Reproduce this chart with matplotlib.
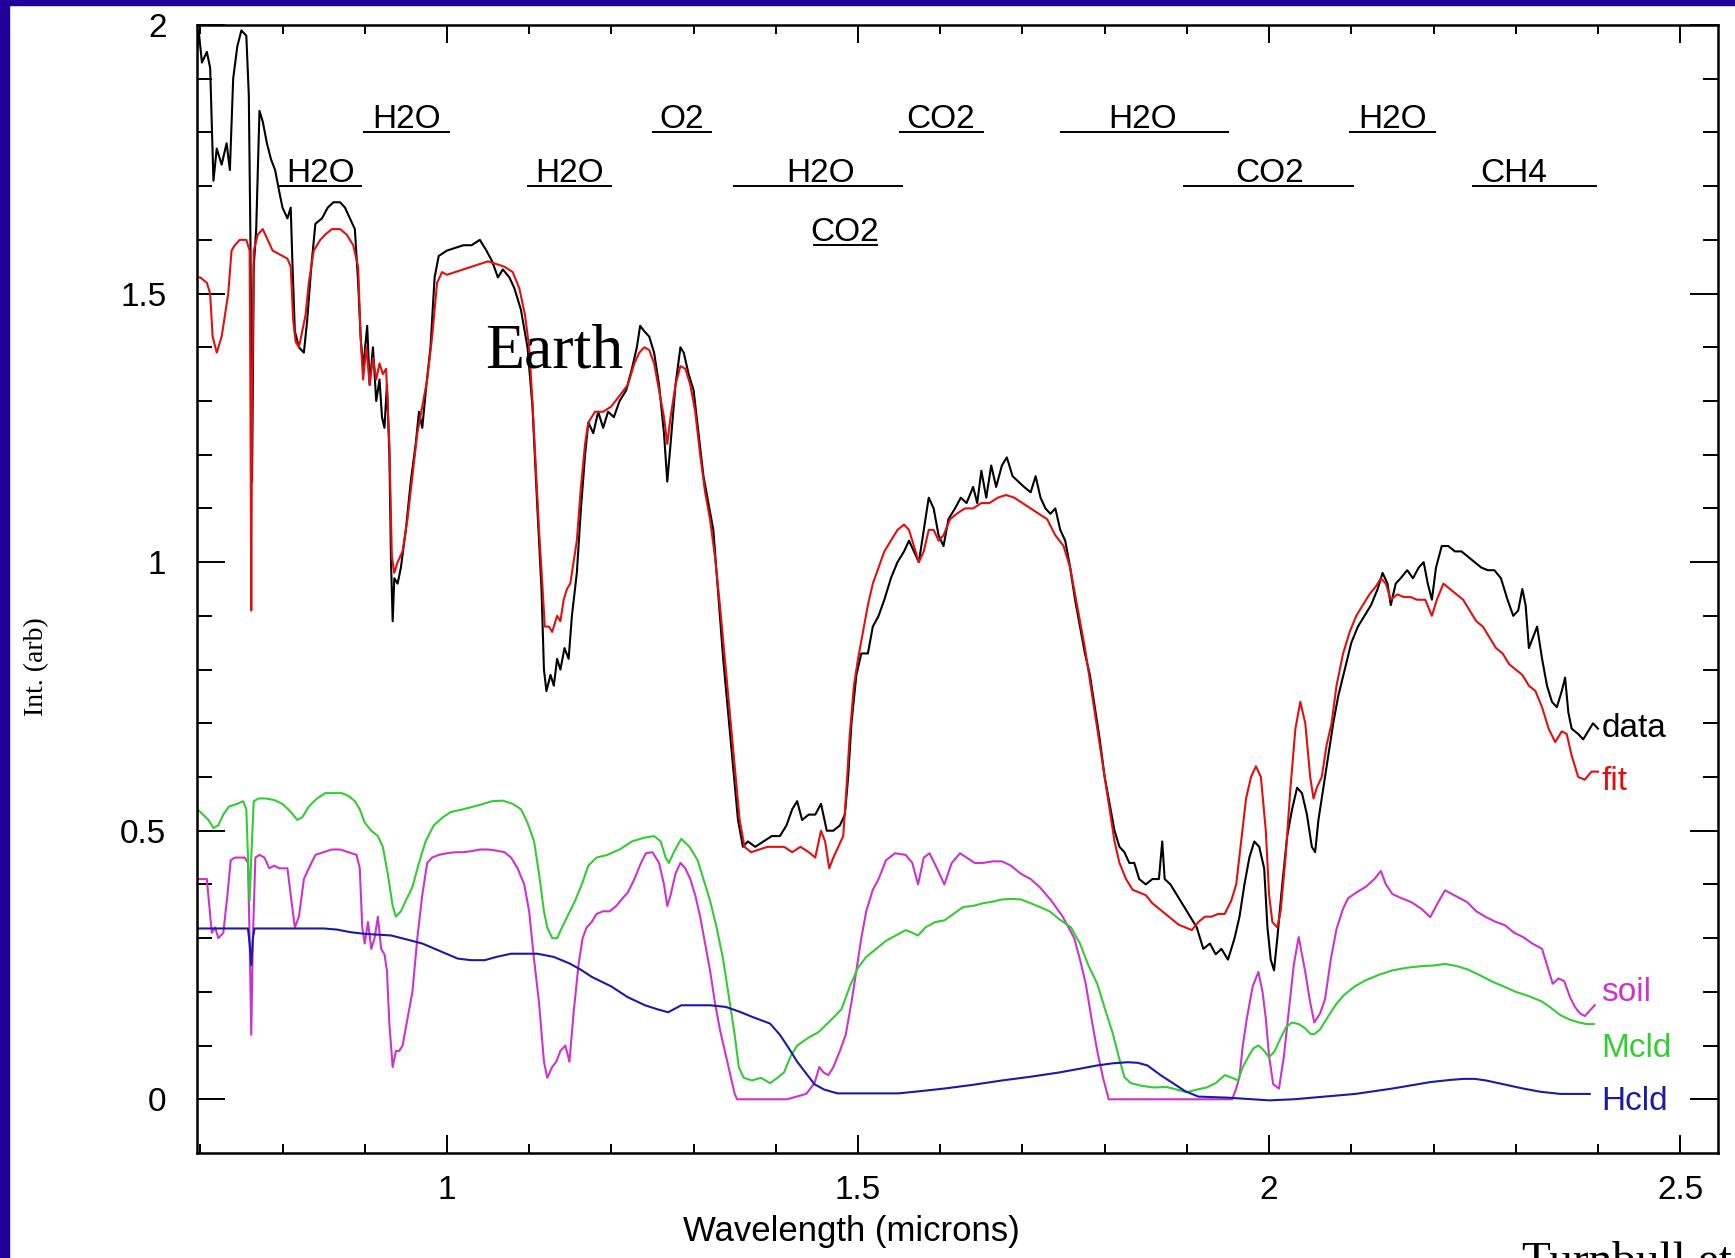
import numpy as np
import matplotlib
matplotlib.use("Agg")
import matplotlib.pyplot as plt
from matplotlib.patches import Rectangle

# data (black)
data_x = [0.692, 0.695, 0.698, 0.702, 0.708, 0.712, 0.716, 0.720, 0.726, 0.732, 0.736, 0.740, 0.745, 0.750, 0.756,
          0.759, 0.761, 0.763, 0.765, 0.768, 0.772, 0.776, 0.781, 0.786, 0.791, 0.796, 0.800, 0.806, 0.810, 0.812,
          0.815, 0.820, 0.826, 0.830, 0.835, 0.840, 0.848, 0.855, 0.862, 0.870, 0.876, 0.882, 0.888, 0.892, 0.895,
          0.898, 0.903, 0.906, 0.910, 0.914, 0.918, 0.921, 0.924, 0.927, 0.930, 0.932, 0.934, 0.936, 0.940, 0.944,
          0.950, 0.956, 0.962, 0.966, 0.970, 0.975, 0.980, 0.985, 0.990, 1.000, 1.010, 1.020, 1.030, 1.040, 1.048,
          1.055, 1.062, 1.068, 1.076, 1.082, 1.090, 1.098, 1.104, 1.110, 1.115, 1.118, 1.121, 1.126, 1.130, 1.134,
          1.138, 1.143, 1.148, 1.152, 1.158, 1.163, 1.168, 1.172, 1.178, 1.184, 1.190, 1.196, 1.203, 1.210, 1.218,
          1.225, 1.231, 1.235, 1.240, 1.246, 1.252, 1.258, 1.264, 1.268, 1.272, 1.278, 1.284, 1.288, 1.294, 1.300,
          1.306, 1.312, 1.318, 1.324, 1.330, 1.336, 1.342, 1.348, 1.354, 1.360, 1.366, 1.375, 1.385, 1.395, 1.405,
          1.413, 1.420, 1.426, 1.432, 1.440, 1.448, 1.455, 1.462, 1.470, 1.478, 1.484, 1.488, 1.492, 1.498, 1.504,
          1.512, 1.518, 1.525, 1.532, 1.540, 1.548, 1.556, 1.562, 1.568, 1.574, 1.580, 1.586, 1.592, 1.598, 1.604,
          1.610, 1.618, 1.625, 1.632, 1.640, 1.645, 1.650, 1.656, 1.662, 1.668, 1.675, 1.681, 1.688, 1.695, 1.702,
          1.710, 1.716, 1.722, 1.728, 1.734, 1.740, 1.746, 1.752, 1.758, 1.764, 1.770, 1.776, 1.782, 1.788, 1.794,
          1.800, 1.806, 1.812, 1.818, 1.824, 1.830, 1.836, 1.842, 1.850, 1.858, 1.866, 1.870, 1.873, 1.880, 1.888,
          1.896, 1.904, 1.912, 1.920, 1.928, 1.935, 1.942, 1.950, 1.958, 1.964, 1.970, 1.976, 1.982, 1.988, 1.994,
          1.998, 2.002, 2.006, 2.010, 2.016, 2.022, 2.028, 2.034, 2.040, 2.046, 2.052, 2.056, 2.060, 2.066, 2.072,
          2.078, 2.084, 2.092, 2.100, 2.108, 2.116, 2.124, 2.132, 2.138, 2.144, 2.148, 2.154, 2.160, 2.168, 2.175,
          2.182, 2.188, 2.193, 2.198, 2.203, 2.210, 2.218, 2.226, 2.234, 2.242, 2.250, 2.258, 2.266, 2.274, 2.282,
          2.290, 2.297, 2.303, 2.308, 2.312, 2.316, 2.321, 2.326, 2.332, 2.338, 2.344, 2.350, 2.356, 2.360, 2.364,
          2.368, 2.376, 2.382, 2.388, 2.394, 2.400]
data_y = [1.97, 1.93, 1.99, 1.93, 1.95, 1.92, 1.71, 1.77, 1.74, 1.78, 1.73, 1.90, 1.96, 1.99, 1.98,
          1.87, 1.60, 1.15, 1.55, 1.62, 1.84, 1.82, 1.78, 1.75, 1.73, 1.69, 1.66, 1.64, 1.66, 1.56,
          1.43, 1.40, 1.39, 1.45, 1.55, 1.63, 1.64, 1.66, 1.67, 1.67, 1.66, 1.64, 1.62, 1.52, 1.42,
          1.36, 1.44, 1.33, 1.40, 1.30, 1.34, 1.27, 1.25, 1.33, 1.20, 1.00, 0.89, 0.97, 0.96, 0.99,
          1.06, 1.15, 1.22, 1.28, 1.25, 1.33, 1.40, 1.53, 1.57, 1.58, 1.585, 1.59, 1.59, 1.60, 1.58,
          1.56, 1.53, 1.545, 1.53, 1.51, 1.47, 1.40, 1.29, 1.10, 0.95, 0.80, 0.76, 0.79, 0.77, 0.82,
          0.80, 0.84, 0.82, 0.90, 0.98, 1.10, 1.20, 1.26, 1.24, 1.28, 1.25, 1.28, 1.27, 1.30, 1.32,
          1.36, 1.40, 1.44, 1.43, 1.42, 1.39, 1.33, 1.24, 1.15, 1.22, 1.33, 1.40, 1.39, 1.35, 1.32,
          1.24, 1.16, 1.11, 1.06, 0.94, 0.82, 0.72, 0.62, 0.52, 0.47, 0.48, 0.47, 0.48, 0.49, 0.49,
          0.51, 0.54, 0.555, 0.52, 0.53, 0.53, 0.55, 0.50, 0.50, 0.51, 0.53, 0.60, 0.70, 0.79, 0.83,
          0.83, 0.88, 0.90, 0.93, 0.97, 1.00, 1.02, 1.04, 1.02, 1.00, 1.06, 1.12, 1.10, 1.05, 1.03,
          1.08, 1.10, 1.12, 1.11, 1.14, 1.11, 1.17, 1.12, 1.18, 1.14, 1.18, 1.195, 1.16, 1.15, 1.14,
          1.13, 1.16, 1.12, 1.10, 1.09, 1.10, 1.06, 1.04, 0.99, 0.93, 0.88, 0.83, 0.79, 0.73, 0.67,
          0.60, 0.55, 0.50, 0.47, 0.46, 0.44, 0.44, 0.41, 0.40, 0.41, 0.41, 0.48, 0.41, 0.40, 0.38,
          0.36, 0.34, 0.32, 0.28, 0.29, 0.27, 0.28, 0.26, 0.30, 0.34, 0.40, 0.45, 0.48, 0.47, 0.43,
          0.32, 0.26, 0.24, 0.30, 0.40, 0.49, 0.54, 0.58, 0.57, 0.53, 0.47, 0.46, 0.52, 0.58, 0.64,
          0.70, 0.75, 0.80, 0.85, 0.88, 0.90, 0.92, 0.95, 0.98, 0.96, 0.92, 0.96, 0.97, 0.985, 0.97,
          0.99, 1.00, 0.96, 0.93, 0.99, 1.03, 1.03, 1.02, 1.02, 1.01, 1.00, 0.99, 0.985, 0.985, 0.97,
          0.93, 0.90, 0.91, 0.95, 0.92, 0.84, 0.86, 0.88, 0.82, 0.77, 0.74, 0.73, 0.76, 0.785, 0.72,
          0.69, 0.68, 0.67, 0.685, 0.70, 0.69]

# fit (red)
fit_x = [0.692, 0.700, 0.708, 0.712, 0.715, 0.720, 0.726, 0.730, 0.734, 0.738, 0.742, 0.748, 0.756, 0.760, 0.761,
         0.762, 0.763, 0.765, 0.770, 0.776, 0.782, 0.788, 0.794, 0.800, 0.806, 0.810, 0.813, 0.816, 0.820, 0.824,
         0.828, 0.832, 0.838, 0.846, 0.852, 0.860, 0.870, 0.878, 0.886, 0.892, 0.895, 0.898, 0.902, 0.906, 0.910,
         0.914, 0.918, 0.922, 0.926, 0.930, 0.933, 0.936, 0.940, 0.946, 0.952, 0.958, 0.964, 0.970, 0.976, 0.982,
         0.988, 0.994, 1.000, 1.010, 1.020, 1.030, 1.040, 1.050, 1.060, 1.070, 1.080, 1.088, 1.095, 1.100, 1.104,
         1.108, 1.112, 1.116, 1.119, 1.124, 1.128, 1.134, 1.138, 1.142, 1.146, 1.150, 1.154, 1.158, 1.163, 1.168,
         1.172, 1.180, 1.190, 1.200, 1.210, 1.220, 1.228, 1.234, 1.240, 1.246, 1.252, 1.258, 1.264, 1.268, 1.272,
         1.278, 1.284, 1.290, 1.296, 1.302, 1.308, 1.314, 1.320, 1.326, 1.332, 1.338, 1.344, 1.350, 1.356, 1.362,
         1.370, 1.380, 1.390, 1.400, 1.410, 1.420, 1.430, 1.440, 1.448, 1.455, 1.460, 1.465, 1.470, 1.476, 1.482,
         1.486, 1.490, 1.495, 1.500, 1.506, 1.512, 1.518, 1.525, 1.532, 1.540, 1.548, 1.556, 1.562, 1.568, 1.574,
         1.580, 1.586, 1.592, 1.598, 1.604, 1.612, 1.620, 1.630, 1.640, 1.650, 1.660, 1.670, 1.680, 1.690, 1.700,
         1.710, 1.720, 1.730, 1.740, 1.750, 1.758, 1.764, 1.770, 1.776, 1.782, 1.788, 1.794, 1.800, 1.806, 1.812,
         1.818, 1.826, 1.834, 1.842, 1.850, 1.858, 1.866, 1.874, 1.882, 1.890, 1.898, 1.906, 1.914, 1.922, 1.930,
         1.938, 1.946, 1.954, 1.960, 1.966, 1.972, 1.978, 1.984, 1.990, 1.996, 2.000, 2.004, 2.010, 2.014, 2.020,
         2.026, 2.032, 2.038, 2.044, 2.050, 2.054, 2.058, 2.064, 2.070, 2.076, 2.082, 2.090, 2.098, 2.106, 2.114,
         2.122, 2.130, 2.136, 2.142, 2.148, 2.156, 2.164, 2.172, 2.180, 2.190, 2.198, 2.204, 2.212, 2.220, 2.228,
         2.236, 2.244, 2.252, 2.260, 2.268, 2.276, 2.284, 2.292, 2.300, 2.308, 2.316, 2.324, 2.332, 2.340, 2.348,
         2.356, 2.362, 2.368, 2.376, 2.384, 2.392, 2.400]
fit_y = [1.53, 1.53, 1.52, 1.50, 1.42, 1.39, 1.42, 1.46, 1.50, 1.58, 1.59, 1.60, 1.60, 1.58, 1.30,
         0.91, 1.30, 1.58, 1.61, 1.62, 1.60, 1.58, 1.575, 1.57, 1.565, 1.55, 1.45, 1.41, 1.40, 1.43,
         1.46, 1.52, 1.58, 1.60, 1.61, 1.62, 1.62, 1.61, 1.59, 1.55, 1.42, 1.34, 1.40, 1.33, 1.38,
         1.34, 1.37, 1.35, 1.36, 1.22, 1.01, 0.98, 1.00, 1.02, 1.08, 1.16, 1.24, 1.29, 1.34, 1.42,
         1.52, 1.54, 1.535, 1.54, 1.545, 1.55, 1.555, 1.56, 1.555, 1.55, 1.54, 1.51, 1.46, 1.40, 1.30,
         1.18, 1.06, 0.96, 0.88, 0.88, 0.87, 0.90, 0.89, 0.93, 0.95, 0.96, 1.00, 1.04, 1.14, 1.22,
         1.26, 1.28, 1.28, 1.29, 1.31, 1.33, 1.37, 1.39, 1.40, 1.395, 1.37, 1.32, 1.27, 1.22, 1.27,
         1.33, 1.365, 1.36, 1.33, 1.28, 1.20, 1.13, 1.08, 1.01, 0.92, 0.82, 0.72, 0.62, 0.52, 0.47,
         0.46, 0.465, 0.47, 0.47, 0.47, 0.46, 0.47, 0.46, 0.45, 0.50, 0.48, 0.43, 0.45, 0.47, 0.49,
         0.58, 0.68, 0.77, 0.82, 0.87, 0.92, 0.96, 0.99, 1.02, 1.04, 1.06, 1.07, 1.06, 1.03, 1.00,
         1.02, 1.06, 1.06, 1.04, 1.05, 1.08, 1.09, 1.10, 1.10, 1.11, 1.11, 1.12, 1.125, 1.12, 1.11,
         1.10, 1.09, 1.08, 1.05, 1.03, 0.99, 0.94, 0.89, 0.84, 0.78, 0.72, 0.66, 0.60, 0.54, 0.48,
         0.44, 0.41, 0.39, 0.385, 0.38, 0.365, 0.355, 0.345, 0.335, 0.325, 0.32, 0.315, 0.33, 0.34, 0.34,
         0.345, 0.345, 0.37, 0.40, 0.48, 0.56, 0.60, 0.62, 0.60, 0.50, 0.38, 0.33, 0.32, 0.35, 0.45,
         0.58, 0.69, 0.74, 0.70, 0.60, 0.56, 0.58, 0.60, 0.66, 0.70, 0.77, 0.83, 0.87, 0.90, 0.92,
         0.94, 0.955, 0.97, 0.96, 0.93, 0.94, 0.935, 0.935, 0.93, 0.93, 0.90, 0.93, 0.96, 0.95, 0.94,
         0.93, 0.91, 0.89, 0.88, 0.86, 0.84, 0.83, 0.81, 0.80, 0.79, 0.77, 0.76, 0.73, 0.69, 0.665,
         0.685, 0.68, 0.64, 0.60, 0.595, 0.61, 0.61]

# soil (magenta)
soil_x = [0.692, 0.700, 0.708, 0.711, 0.714, 0.718, 0.722, 0.728, 0.733, 0.737, 0.742, 0.748, 0.754, 0.758, 0.760,
          0.762, 0.764, 0.767, 0.772, 0.778, 0.784, 0.790, 0.796, 0.802, 0.806, 0.810, 0.815, 0.820, 0.826, 0.832,
          0.840, 0.850, 0.860, 0.870, 0.880, 0.890, 0.894, 0.897, 0.900, 0.904, 0.908, 0.912, 0.916, 0.920, 0.924,
          0.927, 0.930, 0.934, 0.938, 0.942, 0.946, 0.952, 0.958, 0.964, 0.970, 0.976, 0.982, 0.990, 1.000, 1.010,
          1.020, 1.030, 1.040, 1.050, 1.060, 1.070, 1.078, 1.086, 1.094, 1.100, 1.106, 1.112, 1.118, 1.122, 1.128,
          1.133, 1.138, 1.144, 1.149, 1.154, 1.160, 1.165, 1.170, 1.176, 1.182, 1.190, 1.198, 1.206, 1.214, 1.220,
          1.228, 1.236, 1.242, 1.250, 1.258, 1.264, 1.268, 1.272, 1.278, 1.284, 1.290, 1.296, 1.302, 1.308, 1.314,
          1.320, 1.326, 1.332, 1.338, 1.344, 1.350, 1.353, 1.380, 1.414, 1.425, 1.437, 1.447, 1.453, 1.458, 1.464,
          1.470, 1.478, 1.485, 1.492, 1.498, 1.504, 1.510, 1.518, 1.525, 1.534, 1.545, 1.558, 1.566, 1.573, 1.580,
          1.587, 1.596, 1.605, 1.614, 1.624, 1.632, 1.642, 1.652, 1.664, 1.675, 1.686, 1.698, 1.710, 1.721, 1.735,
          1.749, 1.756, 1.763, 1.770, 1.777, 1.784, 1.791, 1.798, 1.805, 1.840, 1.900, 1.955, 1.960, 1.964, 1.968,
          1.973, 1.980, 1.987, 1.992, 1.996, 2.000, 2.005, 2.012, 2.018, 2.023, 2.030, 2.036, 2.040, 2.044, 2.050,
          2.055, 2.062, 2.068, 2.075, 2.082, 2.090, 2.096, 2.106, 2.118, 2.128, 2.136, 2.142, 2.150, 2.160, 2.173,
          2.185, 2.196, 2.205, 2.214, 2.225, 2.241, 2.252, 2.264, 2.276, 2.287, 2.298, 2.309, 2.320, 2.332, 2.338,
          2.345, 2.352, 2.359, 2.366, 2.372, 2.378, 2.384, 2.390, 2.396]
soil_y = [0.41, 0.41, 0.41, 0.36, 0.31, 0.32, 0.30, 0.31, 0.38, 0.445, 0.45, 0.45, 0.45, 0.44, 0.30,
          0.12, 0.30, 0.45, 0.455, 0.45, 0.43, 0.435, 0.43, 0.43, 0.43, 0.38, 0.32, 0.34, 0.41, 0.43,
          0.455, 0.46, 0.465, 0.465, 0.46, 0.455, 0.43, 0.32, 0.29, 0.33, 0.28, 0.30, 0.34, 0.28, 0.27,
          0.24, 0.14, 0.06, 0.09, 0.09, 0.10, 0.15, 0.20, 0.30, 0.38, 0.44, 0.45, 0.455, 0.458, 0.46,
          0.46, 0.462, 0.465, 0.465, 0.463, 0.46, 0.45, 0.43, 0.40, 0.35, 0.26, 0.18, 0.07, 0.04, 0.06,
          0.07, 0.09, 0.10, 0.07, 0.16, 0.25, 0.30, 0.32, 0.33, 0.345, 0.35, 0.35, 0.36, 0.375, 0.385,
          0.41, 0.44, 0.458, 0.46, 0.44, 0.40, 0.36, 0.38, 0.42, 0.44, 0.43, 0.41, 0.38, 0.34, 0.29,
          0.24, 0.18, 0.13, 0.09, 0.05, 0.01, 0.0, 0.0, 0.0, 0.005, 0.01, 0.03, 0.06, 0.05, 0.045,
          0.06, 0.09, 0.12, 0.18, 0.24, 0.30, 0.35, 0.39, 0.41, 0.445, 0.458, 0.455, 0.44, 0.40, 0.45,
          0.458, 0.43, 0.40, 0.44, 0.458, 0.45, 0.44, 0.44, 0.443, 0.443, 0.435, 0.42, 0.41, 0.395, 0.37,
          0.34, 0.32, 0.30, 0.26, 0.215, 0.15, 0.09, 0.04, 0.0, 0.0, 0.0, 0.0, 0.02, 0.042, 0.10,
          0.151, 0.21, 0.237, 0.20, 0.151, 0.08, 0.028, 0.02, 0.08, 0.151, 0.25, 0.302, 0.27, 0.237, 0.18,
          0.143, 0.16, 0.186, 0.26, 0.317, 0.355, 0.374, 0.385, 0.396, 0.41, 0.425, 0.40, 0.382, 0.375, 0.367,
          0.355, 0.339, 0.365, 0.389, 0.38, 0.367, 0.35, 0.339, 0.33, 0.324, 0.31, 0.302, 0.29, 0.28, 0.25,
          0.215, 0.225, 0.22, 0.19, 0.172, 0.16, 0.155, 0.165, 0.175]

# Mcld (green)
mcld_x = [0.692, 0.700, 0.710, 0.716, 0.722, 0.728, 0.735, 0.745, 0.752, 0.756, 0.758, 0.760, 0.762, 0.765, 0.771,
          0.780, 0.790, 0.800, 0.810, 0.818, 0.824, 0.832, 0.842, 0.852, 0.862, 0.872, 0.880, 0.888, 0.894, 0.900,
          0.908, 0.916, 0.922, 0.928, 0.934, 0.938, 0.944, 0.950, 0.958, 0.966, 0.974, 0.984, 0.995, 1.005, 1.020,
          1.040, 1.055, 1.068, 1.080, 1.090, 1.098, 1.106, 1.112, 1.118, 1.122, 1.128, 1.134, 1.140, 1.148, 1.156,
          1.164, 1.172, 1.182, 1.195, 1.210, 1.225, 1.240, 1.252, 1.260, 1.266, 1.270, 1.276, 1.285, 1.295, 1.305,
          1.312, 1.320, 1.328, 1.336, 1.343, 1.350, 1.355, 1.361, 1.371, 1.382, 1.393, 1.402, 1.410, 1.418, 1.426,
          1.440, 1.452, 1.462, 1.472, 1.480, 1.490, 1.500, 1.510, 1.522, 1.534, 1.546, 1.558, 1.566, 1.573, 1.582,
          1.594, 1.605, 1.616, 1.628, 1.640, 1.652, 1.664, 1.675, 1.687, 1.698, 1.710, 1.721, 1.733, 1.745, 1.759,
          1.770, 1.780, 1.791, 1.800, 1.810, 1.817, 1.824, 1.832, 1.845, 1.860, 1.875, 1.888, 1.900, 1.912, 1.924,
          1.935, 1.946, 1.955, 1.962, 1.968, 1.975, 1.981, 1.987, 1.993, 2.000, 2.007, 2.014, 2.021, 2.028, 2.036,
          2.044, 2.050, 2.055, 2.062, 2.073, 2.082, 2.091, 2.104, 2.118, 2.134, 2.150, 2.168, 2.186, 2.200, 2.214,
          2.228, 2.241, 2.255, 2.270, 2.287, 2.300, 2.316, 2.332, 2.343, 2.354, 2.366, 2.377, 2.386, 2.395]
mcld_y = [0.545, 0.535, 0.52, 0.505, 0.51, 0.53, 0.545, 0.55, 0.555, 0.54, 0.45, 0.37, 0.45, 0.555, 0.56,
          0.56, 0.557, 0.55, 0.535, 0.52, 0.525, 0.545, 0.56, 0.57, 0.57, 0.57, 0.565, 0.555, 0.54, 0.515,
          0.50, 0.49, 0.47, 0.42, 0.36, 0.34, 0.35, 0.37, 0.395, 0.44, 0.48, 0.51, 0.525, 0.535, 0.54,
          0.548, 0.555, 0.556, 0.55, 0.54, 0.515, 0.48, 0.42, 0.35, 0.32, 0.30, 0.30, 0.32, 0.345, 0.37,
          0.40, 0.435, 0.45, 0.455, 0.465, 0.48, 0.487, 0.49, 0.48, 0.45, 0.44, 0.46, 0.485, 0.47, 0.445,
          0.41, 0.37, 0.32, 0.26, 0.19, 0.12, 0.06, 0.04, 0.035, 0.04, 0.03, 0.04, 0.05, 0.08, 0.10,
          0.115, 0.125, 0.14, 0.155, 0.168, 0.21, 0.245, 0.265, 0.28, 0.295, 0.305, 0.315, 0.31, 0.305, 0.32,
          0.33, 0.333, 0.345, 0.358, 0.36, 0.365, 0.368, 0.372, 0.373, 0.372, 0.365, 0.358, 0.35, 0.335, 0.32,
          0.29, 0.25, 0.215, 0.17, 0.122, 0.08, 0.041, 0.03, 0.025, 0.022, 0.023, 0.018, 0.013, 0.018, 0.022,
          0.03, 0.045, 0.04, 0.035, 0.06, 0.08, 0.095, 0.10, 0.092, 0.078, 0.09, 0.114, 0.135, 0.143, 0.14,
          0.132, 0.122, 0.121, 0.13, 0.157, 0.178, 0.194, 0.21, 0.222, 0.232, 0.24, 0.245, 0.248, 0.249, 0.252,
          0.248, 0.242, 0.232, 0.22, 0.209, 0.20, 0.192, 0.182, 0.17, 0.157, 0.148, 0.143, 0.14, 0.14]

# Hcld (blue)
hcld_x = [0.692, 0.720, 0.750, 0.758, 0.760, 0.762, 0.764, 0.766, 0.800, 0.850, 0.866, 0.883, 0.900, 0.932, 0.950,
          0.970, 0.990, 1.013, 1.029, 1.046, 1.060, 1.078, 1.110, 1.130, 1.149, 1.162, 1.176, 1.200, 1.220, 1.241,
          1.255, 1.269, 1.285, 1.303, 1.320, 1.339, 1.356, 1.372, 1.393, 1.405, 1.415, 1.426, 1.437, 1.447, 1.459,
          1.475, 1.500, 1.549, 1.575, 1.605, 1.640, 1.675, 1.710, 1.745, 1.770, 1.791, 1.810, 1.828, 1.840, 1.852,
          1.868, 1.884, 1.898, 1.914, 1.950, 2.000, 2.030, 2.060, 2.105, 2.150, 2.196, 2.220, 2.236, 2.250, 2.264,
          2.285, 2.309, 2.330, 2.354, 2.390]
hcld_y = [0.318, 0.318, 0.318, 0.318, 0.29, 0.25, 0.30, 0.318, 0.318, 0.318, 0.316, 0.311, 0.308, 0.305, 0.298,
          0.29, 0.277, 0.262, 0.259, 0.259, 0.265, 0.271, 0.271, 0.265, 0.253, 0.242, 0.228, 0.21, 0.19, 0.175,
          0.168, 0.162, 0.175, 0.175, 0.175, 0.172, 0.163, 0.153, 0.141, 0.12, 0.097, 0.07, 0.048, 0.028, 0.018,
          0.011, 0.011, 0.011, 0.015, 0.02, 0.027, 0.035, 0.042, 0.05, 0.057, 0.063, 0.067, 0.069, 0.068, 0.063,
          0.045, 0.029, 0.015, 0.005, 0.003, -0.002, 0.0, 0.004, 0.01, 0.02, 0.032, 0.036, 0.038, 0.038, 0.035,
          0.028, 0.02, 0.014, 0.01, 0.01]

# 吸収帯ラベル: (文字, 文字の中心x, 下線y, 下線x範囲)
band_text = ["H2O", "H2O", "H2O", "O2", "H2O", "CO2", "CO2", "H2O", "CO2", "H2O", "CH4"]
band_x = [0.951, 0.846, 1.149, 1.286, 1.454, 1.484, 1.601, 1.846, 2.001, 2.150, 2.298]
band_y = [1.80, 1.70, 1.70, 1.80, 1.70, 1.59, 1.80, 1.80, 1.70, 1.80, 1.70]
line_x0 = [0.899, 0.796, 1.099, 1.251, 1.349, 1.446, 1.551, 1.747, 1.896, 2.098, 2.248]
line_x1 = [1.003, 0.896, 1.200, 1.321, 1.553, 1.523, 1.652, 1.950, 2.102, 2.202, 2.398]

curve_names = ["data", "fit", "soil", "Mcld", "Hcld"]
curve_label_y = [0.69, 0.592, 0.198, 0.095, -0.004]
curve_colors = ["#000000", "#e01010", "#cc33cc", "#33cc33", "#1a1aa8"]

W, H = 1735, 1258
fig = plt.figure(figsize=(W / 100, H / 100), dpi=100)
fig.patch.set_facecolor("white")
# 青い枠 (左と上)
fig.patches.append(Rectangle((0, 0), 9 / W, 1, transform=fig.transFigure, color="#22009a", zorder=0))
fig.patches.append(Rectangle((0, 1 - 5 / H), 1, 5 / H, transform=fig.transFigure, color="#22009a", zorder=0))

ax = fig.add_axes([197 / W, 1 - 1153 / H, (1718 - 197) / W, (1153 - 25) / H])

series = [(data_x, data_y), (fit_x, fit_y), (soil_x, soil_y), (mcld_x, mcld_y), (hcld_x, hcld_y)]
for (xs, ys), c in zip(series, curve_colors):
    ax.plot(xs, ys, color=c, lw=1.5)

for name, ly, c in zip(curve_names, curve_label_y, curve_colors):
    ax.text(2.404, ly, name, color=c, fontsize=24, family="Liberation Sans", va="center", ha="left")

for t, bx, by, x0, x1 in zip(band_text, band_x, band_y, line_x0, line_x1):
    ax.text(bx, by + 0.008, t, fontsize=24, family="Liberation Sans", ha="center", va="baseline")
    ax.plot([x0, x1], [by, by], color="black", lw=1.4)

ax.text(1.046, 1.363, "Earth", fontsize=46, family="Liberation Serif", va="baseline")

# 軸範囲と目盛り
ax.set_xlim(0.696, 2.546)
ax.set_ylim(-0.1, 2.0)
ax.set_xticks([1, 1.5, 2, 2.5])
ax.set_xticklabels(["1", "1.5", "2", "2.5"])
ax.set_xticks(np.arange(0.7, 2.55, 0.1), minor=True)
ax.set_yticks([0, 0.5, 1, 1.5, 2])
ax.set_yticklabels(["0", "0.5", "1", "1.5", "2"])
ax.set_yticks(np.arange(0, 2.01, 0.1), minor=True)
ax.tick_params(which="both", direction="in", top=True, right=True, width=1.4, colors="black")
ax.tick_params(axis="x", which="major", length=13, pad=16, labelsize=24)
ax.tick_params(axis="x", which="minor", length=6.5)
ax.tick_params(axis="y", which="major", length=20, pad=22, labelsize=24)
ax.tick_params(axis="y", which="minor", length=11)
for lab in ax.get_xticklabels() + ax.get_yticklabels():
    lab.set_family("Liberation Sans")
for s in ax.spines.values():
    s.set_linewidth(1.8)

ax.set_xlabel("Wavelength (microns)", fontsize=25, family="Liberation Sans", va="center")
ax.xaxis.set_label_coords(0.43, -0.07)
ax.set_ylabel("Int. (arb)", fontsize=20, family="Liberation Serif", va="center")
ax.yaxis.set_label_coords(-0.1055, 0.431)

# 出典 (元図でも下端で切れている)
fig.text(1522 / W, 1 - 1274 / H, "Turnbull et al. 2006", fontsize=34, family="Liberation Serif", va="baseline")

plt.savefig("out.png", dpi=100)
